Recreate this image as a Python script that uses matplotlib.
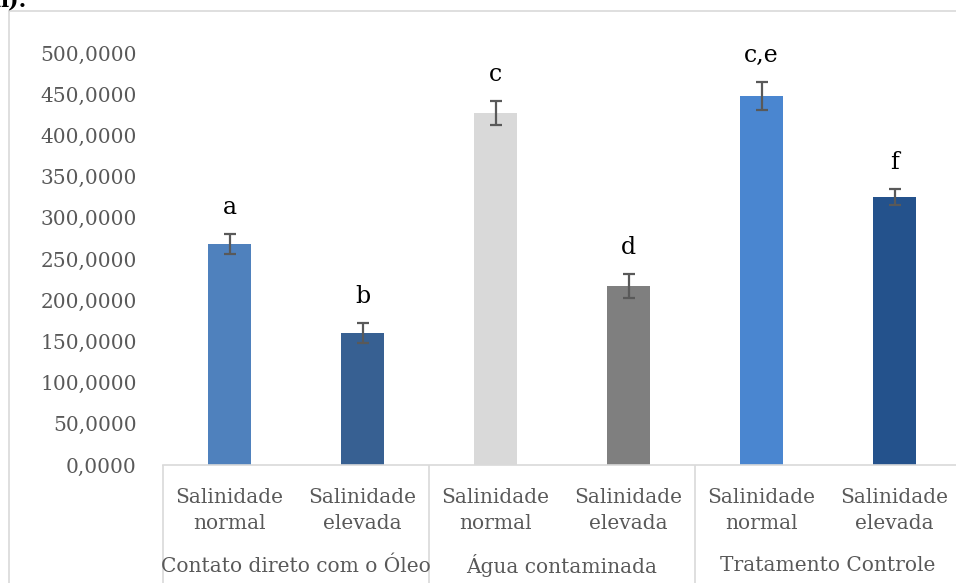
import matplotlib
matplotlib.use("Agg")
import matplotlib.pyplot as plt
from matplotlib.lines import Line2D
from matplotlib.ticker import FuncFormatter, FixedLocator

# data
groups = ["Contato direto com o Óleo", "Água contaminada", "Tratamento Controle"]
sub_labels = ["Salinidade\nnormal", "Salinidade\nelevada"] * 3
values = [268.2, 160.2, 427.5, 217.2, 447.8, 324.9]
errors = [11.9, 11.8, 14.3, 14.0, 16.8, 9.7]
letters = ["a", "b", "c", "d", "c,e", "f"]
bar_colors = ["#4F81BD", "#376092", "#D9D9D9", "#7F7F7F", "#4A86D0", "#24528C"]

grey_txt = "#595959"
line_col = "#D9D9D9"
plt.rcParams["font.family"] = ["DejaVu Serif"]

fig = plt.figure(figsize=(9.56, 5.83), dpi=100)
W, H = 956, 583
# plot area runs a little past the right edge of the picture
x0, x1, y0, y1 = 163, 961, 465, 53
ax = fig.add_axes([x0 / W, (H - y0) / H, (x1 - x0) / W, (y0 - y1) / H])

xs = list(range(len(values)))
ax.bar(xs, values, width=0.32, color=bar_colors, zorder=2)
ax.errorbar(xs, values, yerr=errors, fmt="none", ecolor=grey_txt,
            elinewidth=1.6, capsize=4.4, capthick=1.6, zorder=3)

for x, v, e, s in zip(xs, values, errors, letters):
    ax.annotate(s, (x, v + e), xytext=(0, 11), textcoords="offset points",
                ha="center", va="bottom", fontsize=17, color="black",
                annotation_clip=False)

ax.set_xlim(-0.5, len(values) - 0.5)
ax.set_ylim(0, 500)
ax.yaxis.set_major_locator(FixedLocator(range(0, 501, 50)))
ax.yaxis.set_major_formatter(FuncFormatter(lambda v, p: f"{v:.4f}".replace(".", ",")))
ax.tick_params(axis="y", length=0, pad=19, labelsize=14.5, labelcolor=grey_txt)

# group separators drawn as long tick marks
ax.set_xticks([-0.5, 1.5, 3.5, 5.5])
ax.set_xticklabels([])
ax.tick_params(axis="x", length=95, width=1.2, color=line_col, direction="out")

for side in ["left", "right", "top"]:
    ax.spines[side].set_visible(False)
ax.spines["bottom"].set_color(line_col)
ax.spines["bottom"].set_linewidth(1.2)

trans = ax.get_xaxis_transform()
for x, lab in zip(xs, sub_labels):
    ax.text(x, -0.11, lab, transform=trans, ha="center", va="center",
            fontsize=14.5, color=grey_txt, linespacing=1.45)
for i, g in enumerate(groups):
    ax.text(2 * i + 0.5, -0.245, g, transform=trans, ha="center", va="center",
            fontsize=14.5, color=grey_txt)

# chart frame (only its left and top edges show)
fig.add_artist(Line2D([8.5 / W, 8.5 / W], [0, 1 - 11 / H], color=line_col, lw=1.2))
fig.add_artist(Line2D([8.5 / W, 1], [1 - 11 / H, 1 - 11 / H], color=line_col, lw=1.2))
# tail of the caption above the chart, cut off by the crop
fig.text(-8 / W, 1 - 7 / H, "n).", fontsize=16, fontweight="bold", va="baseline",
         color="black")

fig.savefig("out.png", dpi=100)
